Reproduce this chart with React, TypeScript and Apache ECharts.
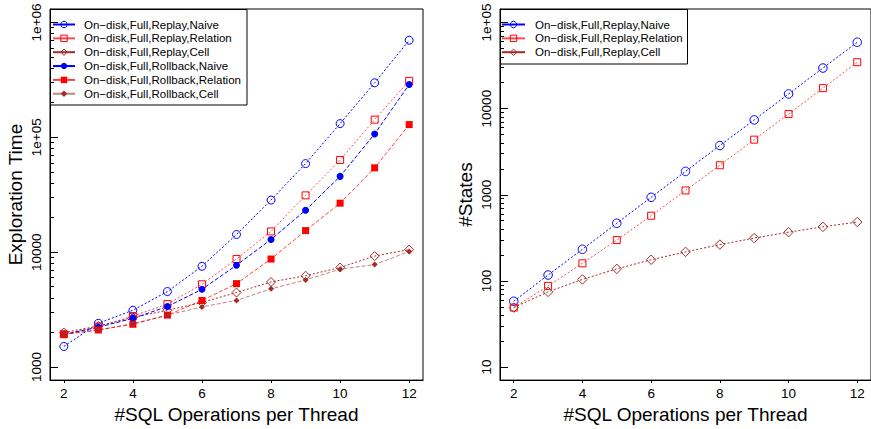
import React, { useEffect, useRef } from 'react';
import * as echarts from 'echarts';

// ---------------- data ----------------
const xs = [2, 3, 4, 5, 6, 7, 8, 9, 10, 11, 12];

const seriesNames = [
  'On−disk,Full,Replay,Naive',
  'On−disk,Full,Replay,Relation',
  'On−disk,Full,Replay,Cell',
  'On−disk,Full,Rollback,Naive',
  'On−disk,Full,Rollback,Relation',
  'On−disk,Full,Rollback,Cell',
];

// Left panel: Exploration Time
const replayNaiveTime = [1510, 2400, 3120, 4540, 7530, 14250, 28400, 59000, 131500, 298000, 700000];
const replayRelationTime = [1930, 2245, 2775, 3530, 5250, 8710, 15150, 31200, 63500, 142500, 310000];
const replayCellTime = [1995, 2275, 2700, 3120, 3650, 4450, 5500, 6230, 7350, 9240, 10540];
const rollbackNaiveTime = [1920, 2220, 2650, 3360, 4750, 7690, 12900, 23200, 45700, 107000, 288000];
const rollbackRelationTime = [1920, 2100, 2355, 2830, 3790, 5320, 8710, 15400, 26700, 54200, 129000];
const rollbackCellTime = [1930, 2100, 2385, 2830, 3335, 3800, 4790, 5730, 7110, 7790, 10140];

// Right panel: #States
const replayNaiveStates = [58, 117, 233, 467, 934, 1866, 3730, 7400, 14800, 29600, 59000];
const replayRelationStates = [49, 87.5, 160, 298, 571, 1122, 2200, 4365, 8650, 17300, 34600];
const replayCellStates = [49, 74.6, 104, 138, 176, 217, 264, 314, 368, 424, 483];

// ticks
const xTickValues = [2, 4, 6, 8, 10, 12];
const leftMajorTicks = [1000, 10000, 100000, 1000000];
const leftTickLabels = ['1000', '10000', '1e+05', '1e+06'];
const leftMinorTicks = [
  2000, 3000, 4000, 5000, 6000, 7000, 8000, 9000,
  20000, 30000, 40000, 50000, 60000, 70000, 80000, 90000,
  200000, 300000, 400000, 500000, 600000, 700000, 800000, 900000,
];
const rightMajorTicks = [10, 100, 1000, 10000, 100000];
const rightTickLabels = ['10', '100', '1000', '10000', '1e+05'];
const rightMinorTicks = [
  20, 30, 40, 50, 60, 70, 80, 90,
  200, 300, 400, 500, 600, 700, 800, 900,
  2000, 3000, 4000, 5000, 6000, 7000, 8000, 9000,
  20000, 30000, 40000, 50000, 60000, 70000, 80000, 90000,
];

// ---------------- styling ----------------
const FONT = "'Liberation Sans', Arial, Helvetica, sans-serif";
const BLUE = '#0000ff';
const RED = '#ff0000';
const BROWN = '#a52a2a';

const pairs = (ys: number[]) => xs.map((x, i) => [x, ys[i]]);

type Sty = {
  color: string;
  lineColor: string;
  symbol: string;
  size: number | number[];
  hollow: boolean;
  dash: number[];
};

const styles: Sty[] = [
  { color: BLUE, lineColor: BLUE, symbol: 'circle', size: 8, hollow: true, dash: [2, 2] },
  { color: RED, lineColor: 'rgba(255,0,0,0.7)', symbol: 'rect', size: 7, hollow: true, dash: [2, 2] },
  { color: BROWN, lineColor: BROWN, symbol: 'diamond', size: 9, hollow: true, dash: [2, 2] },
  { color: BLUE, lineColor: BLUE, symbol: 'circle', size: 7, hollow: false, dash: [4, 2] },
  { color: RED, lineColor: 'rgba(255,0,0,0.75)', symbol: 'rect', size: 7, hollow: false, dash: [4, 2] },
  { color: BROWN, lineColor: 'rgba(165,42,42,0.6)', symbol: 'diamond', size: 6, hollow: false, dash: [4, 2] },
];

const hollowItem = (c: string) => ({ color: 'rgba(255,255,255,0)', borderColor: c, borderWidth: 1 });

function makeSeries(name: string, st: Sty, data: number[], xi: number, yi: number, sizeOverride?: number) {
  return {
    type: 'line',
    name,
    xAxisIndex: xi,
    yAxisIndex: yi,
    data: pairs(data),
    symbol: st.symbol,
    symbolSize: sizeOverride ?? st.size,
    showAllSymbol: true,
    color: st.color,
    lineStyle: { color: st.lineColor, width: 1, type: st.dash },
    itemStyle: st.hollow ? hollowItem(st.color) : { color: st.color, borderWidth: 0 },
    emphasis: { disabled: true },
    z: 3,
  };
}

function yAxes(gridIndex: number, min: number, max: number, majors: number[], labels: string[], minors: number[], title: string) {
  return [
    {
      type: 'log',
      logBase: 10,
      gridIndex,
      position: 'left',
      min,
      max,
      name: title,
      nameLocation: 'middle',
      nameRotate: 90,
      nameGap: 25,
      nameTextStyle: { fontSize: 19, color: '#000', fontFamily: FONT },
      axisLine: { show: true, lineStyle: { color: '#000', width: 1 } },
      axisTick: { show: true, inside: true, length: 8, lineStyle: { color: '#000' }, customValues: majors },
      axisLabel: {
        show: true,
        rotate: 90,
        margin: 7,
        fontSize: 13.5,
        color: '#000',
        fontFamily: FONT,
        customValues: majors,
        formatter: (v: number) => {
          const idx = majors.findIndex((m) => Math.abs(m - v) / m < 1e-6);
          return idx >= 0 ? labels[idx] : '';
        },
      },
      splitLine: { show: false },
    },
    {
      type: 'log',
      logBase: 10,
      gridIndex,
      position: 'left',
      offset: 0,
      min,
      max,
      axisLine: { show: false },
      axisTick: { show: true, inside: true, length: 4, lineStyle: { color: '#000' }, customValues: minors },
      axisLabel: { show: false },
      splitLine: { show: false },
    },
  ];
}

function xAxis(gridIndex: number) {
  return {
    type: 'value',
    gridIndex,
    min: 1.6,
    max: 12.4,
    name: '#SQL Operations per Thread',
    nameLocation: 'middle',
    nameGap: 20,
    nameTextStyle: { fontSize: 19, color: '#000', fontFamily: FONT },
    axisLine: { show: true, onZero: false, lineStyle: { color: '#000', width: 1 } },
    axisTick: { show: true, inside: false, length: 3, lineStyle: { color: '#000' }, customValues: xTickValues },
    axisLabel: { margin: 6, fontSize: 13.5, color: '#000', fontFamily: FONT, customValues: xTickValues },
    splitLine: { show: false },
  };
}

function legendCfg(names: string[], left: number, itemWidth: number, pad: number) {
  return {
    show: true,
    orient: 'vertical',
    left,
    top: 18.5,
    padding: 0,
    itemWidth,
    itemHeight: 8,
    itemGap: 1.85,
    selectedMode: false,
    data: names.map((n, i) => (styles[i].hollow ? { name: n, itemStyle: hollowItem(styles[i].color) } : { name: n })),
    lineStyle: { type: 'solid' },
    textStyle: { fontSize: 11.5, lineHeight: 12, color: '#000', fontFamily: FONT, padding: [0, 0, 0, pad] },
  };
}

export default function App() {
  const ref = useRef<HTMLDivElement>(null);

  useEffect(() => {
    document.body.style.margin = '0';
    const chart = echarts.init(ref.current!, null, { renderer: 'svg' });

    const leftData = [replayNaiveTime, replayRelationTime, replayCellTime, rollbackNaiveTime, rollbackRelationTime, rollbackCellTime];
    const rightData = [replayNaiveStates, replayRelationStates, replayCellStates];

    const series: any[] = [];
    leftData.forEach((d, i) => series.push(makeSeries(seriesNames[i], styles[i], d, 0, 0)));
    rightData.forEach((d, i) => {
      const sz = i === 0 ? 8.5 : i === 2 ? 9.5 : 7;
      series.push(makeSeries(seriesNames[i], styles[i], d, 1, 2, sz));
    });

    const option: any = {
      animation: false,
      backgroundColor: '#fff',
      textStyle: { fontFamily: FONT },
      grid: [
        { left: 50, top: 9, width: 373, height: 377, show: true, borderColor: '#000', borderWidth: 1, containLabel: false },
        { left: 500, top: 9, width: 373, height: 377, show: true, borderColor: '#000', borderWidth: 1, containLabel: false },
      ],
      xAxis: [xAxis(0), xAxis(1)],
      yAxis: [
        ...yAxes(0, 769, 1309000, leftMajorTicks, leftTickLabels, leftMinorTicks, 'Exploration Time'),
        ...yAxes(1, 7.05, 143500, rightMajorTicks, rightTickLabels, rightMinorTicks, '#States'),
      ],
      legend: [
        legendCfg(seriesNames, 52, 22, 4),
        legendCfg(seriesNames.slice(0, 3), 501, 23, 5),
      ],
      graphic: [
        {
          type: 'rect',
          shape: { x: 50.5, y: 9.5, width: 196.5, height: 95.5 },
          style: { fill: 'rgba(0,0,0,0)', stroke: '#000', lineWidth: 1 },
          z: 10,
          silent: true,
        },
        {
          type: 'rect',
          shape: { x: 500.5, y: 9.5, width: 187, height: 54.5 },
          style: { fill: 'rgba(0,0,0,0)', stroke: '#000', lineWidth: 1 },
          z: 10,
          silent: true,
        },
      ],
      series,
    };

    chart.setOption(option);
    return () => chart.dispose();
  }, []);

  return <div ref={ref} style={{ position: 'absolute', left: 0, top: 0, width: 871, height: 429 }} />;
}
